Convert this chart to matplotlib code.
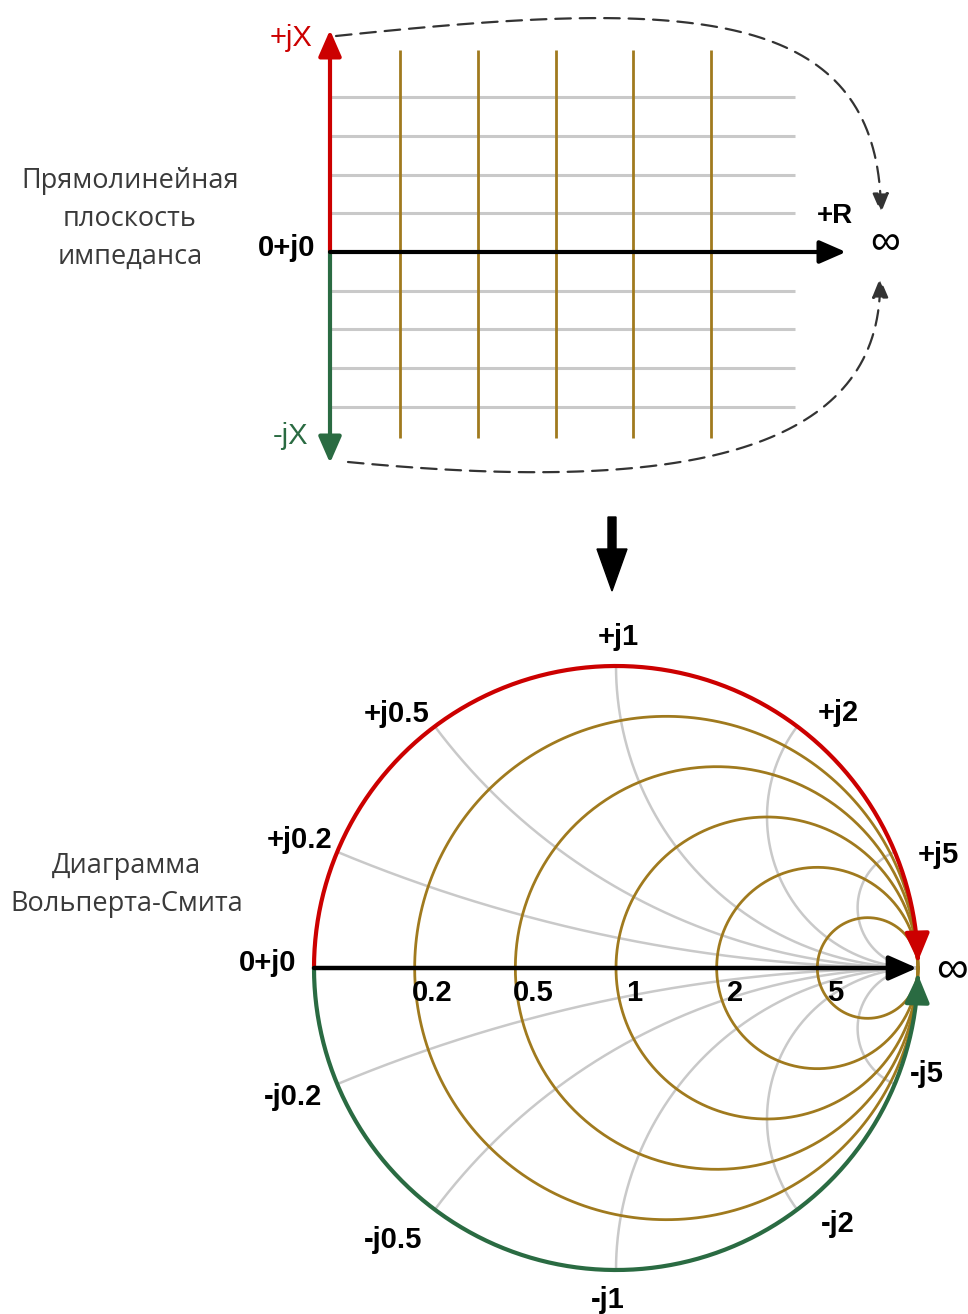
import numpy as np
import matplotlib
matplotlib.use("Agg")
import matplotlib.pyplot as plt
from matplotlib.patches import FancyArrowPatch
from matplotlib.path import Path

# --- data ---
resistances = [0.2, 0.5, 1, 2, 5]
reactances = [0.2, 0.5, 1, 2, 5]
r_labels = ["0.2", "0.5", "1", "2", "5"]
x_labels_pos = ["+j0.2", "+j0.5", "+j1", "+j2", "+j5"]
x_labels_neg = ["-j0.2", "-j0.5", "-j1", "-j2", "-j5"]
rect_h_lines = 4  # grey reactance lines on each side of the real axis
rect_v_lines = 5  # brown resistance lines
caption_top = "Прямолинейная\nплоскость\nимпеданса"
caption_bottom = "Диаграмма\nВольперта-Смита"

RED = "#cc0000"
GREEN = "#2a6b42"
BROWN = "#a07a1e"
GREY = "#c9c9c9"
LABEL_FONT = "Liberation Sans"
CAPTION_FONT = "Open Sans"

W, H = 968, 1314
fig = plt.figure(figsize=(W / 100, H / 100), dpi=100)
ax = fig.add_axes([0, 0, 1, 1])
ax.set_xlim(0, W)
ax.set_ylim(H, 0)
ax.axis("off")


def arrow(p0, p1, color, lw, hl, hw, z=5):
    a = FancyArrowPatch(p0, p1, arrowstyle=f"-|>,head_length={hl},head_width={hw}",
                        color=color, lw=lw, shrinkA=0, shrinkB=0, zorder=z)
    ax.add_patch(a)


def path_arrow(verts, color, lw, hl, hw, ls="-", z=5):
    a = FancyArrowPatch(path=Path(verts), arrowstyle=f"-|>,head_length={hl},head_width={hw}",
                        color=color, lw=lw, linestyle=ls, zorder=z)
    ax.add_patch(a)


def lbl(x, y, s, color="black", size=21, weight="bold", family=LABEL_FONT, **kw):
    ax.text(x, y, s, color=color, fontsize=size, fontweight=weight, family=family,
            ha="center", va="center", **kw)


# ================= top: rectangular impedance plane =================
ox, oy = 330, 252
step_y = 38.7
x_end = 795
for k in range(1, rect_h_lines + 1):
    for sgn in (-1, 1):
        y = oy + sgn * k * step_y
        ax.plot([ox, x_end], [y, y], color=GREY, lw=2.2, zorder=1, solid_capstyle="butt")
for k in range(1, rect_v_lines + 1):
    x = ox + k * 77.8 - 7.8
    ax.plot([x, x], [50, 438], color=BROWN, lw=2, zorder=2, solid_capstyle="butt")

arrow((ox, oy), (ox, 30), RED, 3, 16, 7)
arrow((ox, oy), (ox, 463), GREEN, 3, 16, 7)
arrow((ox, oy), (846, oy), "black", 3, 16, 7)

lbl(291, 38, "+jX", color=RED, weight="normal", size=21)
lbl(291, 436, "-jX", color=GREEN, weight="normal", size=21)
lbl(287, 248, "0+j0")
lbl(835, 216, "+R", size=20)
lbl(885, 243, "∞", size=30, weight="normal")

# dashed links to infinity
t = np.linspace(0, 1, 80)[:, None]
def bez(p0, p1, p2, p3):
    p0, p1, p2, p3 = map(np.array, (p0, p1, p2, p3))
    return (1 - t) ** 3 * p0 + 3 * (1 - t) ** 2 * t * p1 + 3 * (1 - t) * t ** 2 * p2 + t ** 3 * p3

path_arrow(bez((336, 36), (680, 0), (880, 0), (881, 213)), "#333333", 1.6, 12, 5, ls=(0, (7, 4)))
path_arrow(bez((348, 462), (640, 490), (885, 470), (880, 278)), "#333333", 1.6, 12, 5, ls=(0, (7, 4)))

for i, line in enumerate(caption_top.split("\n")):
    ax.text(130, 181 + i * 38, line, fontsize=19.5, family=CAPTION_FONT, color="#3a3a3a",
            ha="center", va="center")

# down arrow
ax.arrow(612, 517, 0, 74, width=8, head_width=30, head_length=42,
         length_includes_head=True, color="black", zorder=5)

# ================= bottom: Smith chart =================
cx, cy, R = 616, 968, 302


def to_px(g):
    return cx + R * g.real, cy - R * g.imag


# reactance arcs (grey)
rr = np.tan(np.linspace(0, np.pi / 2 - 1e-3, 400))
for xv in reactances:
    for sgn in (1, -1):
        g = (rr + 1j * sgn * xv - 1) / (rr + 1j * sgn * xv + 1)
        px, py = to_px(g)
        ax.plot(px, py, color=GREY, lw=1.8, zorder=2)

# resistance circles (brown)
th = np.linspace(0, 2 * np.pi, 500)
for rv in resistances:
    c = rv / (1 + rv)
    rad = 1 / (1 + rv)
    g = c + rad * np.exp(1j * th)
    px, py = to_px(g)
    ax.plot(px, py, color=BROWN, lw=2, zorder=3)

# outer boundary: red upper half, green lower half
up = np.linspace(np.pi, 0.022, 300)
path_arrow(np.column_stack(to_px(np.exp(1j * up))), RED, 3, 17, 7.5, z=6)
lo = np.linspace(-np.pi, -0.022, 300)
path_arrow(np.column_stack(to_px(np.exp(1j * lo))), GREEN, 3, 17, 7.5, z=6)

arrow((cx - R, cy), (cx + R - 1, cy), "black", 3.2, 17, 7.5, z=7)

# resistance labels
for rv, s in zip(resistances, r_labels):
    gx = cx + R * (rv - 1) / (rv + 1)
    lbl(gx + 18, cy + 25, s, size=21)

# reactance labels
pos_off = [(-38, -12), (-38, -12), (2, -29), (41, -13), (44, 3)]
neg_off = [(-44, 13), (-42, 30), (-8, 30), (41, 14), (32, -10)]
for xv, s, (dx, dy) in zip(reactances, x_labels_pos, pos_off):
    g = (xv ** 2 - 1 + 2j * xv) / (xv ** 2 + 1)
    px, py = to_px(g)
    lbl(px + dx, py + dy, s)
for xv, s, (dx, dy) in zip(reactances, x_labels_neg, neg_off):
    g = (xv ** 2 - 1 - 2j * xv) / (xv ** 2 + 1)
    px, py = to_px(g)
    lbl(px + dx, py + dy, s)

lbl(268, 963, "0+j0")
lbl(952, 970, "∞", size=32, weight="normal")

for i, line in enumerate(caption_bottom.split("\n")):
    ax.text(127, 866 + i * 38, line, fontsize=19.5, family=CAPTION_FONT, color="#3a3a3a",
            ha="center", va="center")

fig.savefig("out.png", dpi=100)
